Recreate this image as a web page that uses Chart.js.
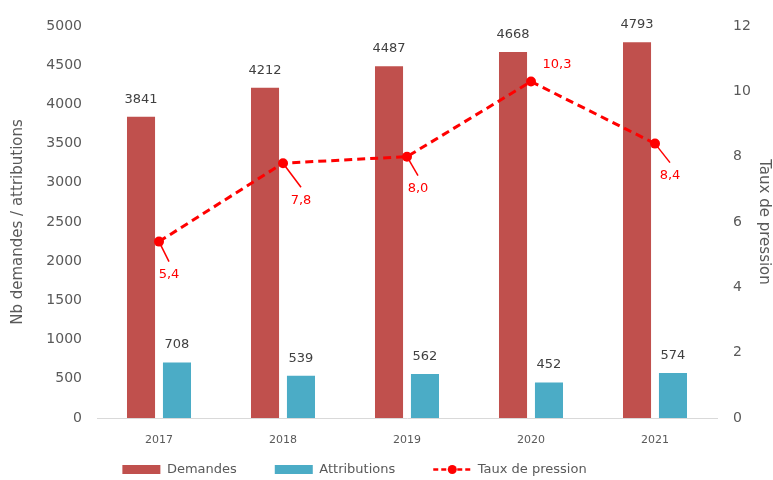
<!DOCTYPE html>
<html>
<head>
<meta charset="utf-8">
<script src="https://cdn.jsdelivr.net/npm/chart.js@4.4.1/dist/chart.umd.min.js"></script>
<style>
  html, body { margin: 0; padding: 0; background: #fff; }
  #wrap { width: 773px; height: 480px; }
</style>
</head>
<body>
<div id="wrap"><canvas id="chart"></canvas></div>
<script>
'use strict';

/* ── Data ─────────────────────────────────────────────────── */
const years = ['2017', '2018', '2019', '2020', '2021'];
const demandes = [3841, 4212, 4487, 4668, 4793];
const attributions = [708, 539, 562, 452, 574];
const tauxPression = [5.4, 7.8, 8.0, 10.3, 8.4];

const FONT = '"DejaVu Sans", sans-serif';
const GREY = '#595959';
const RED_BAR = '#C0504D';
const BLUE_BAR = '#4BACC6';
const RED_LINE = '#FF0000';

// offsets for the pressure labels (dx, dy from point, leader or not)
const rateLabelPos = [
    { dx: 10, dy: 33, leader: true },
    { dx: 18, dy: 37, leader: true },
    { dx: 11, dy: 32, leader: true },
    { dx: 26, dy: -17, leader: false },
    { dx: 15, dy: 32, leader: true },
];

/* ── Value labels plugin ───────────────────────────────────── */
const valueLabels = {
    id: 'valueLabels',
    afterLayout(chart) {
        // legend sits a bit left of centre and closer to the axis in the original
        const lg = chart.legend;
        if (lg) {
            lg.left -= 32; lg.right -= 32;
            lg.top -= 24;
        }
    },
    afterDatasetsDraw(chart) {
        const ctx = chart.ctx;
        ctx.save();
        ctx.textAlign = 'center';
        ctx.textBaseline = 'bottom';
        ctx.font = '13px ' + FONT;
        ctx.fillStyle = '#404040';
        [0, 1].forEach(di => {
            chart.getDatasetMeta(di).data.forEach((bar, i) => {
                const v = chart.data.datasets[di].data[i];
                ctx.fillText(String(v), bar.x, bar.y - 11);
            });
        });

        // pressure labels
        const meta = chart.getDatasetMeta(2);
        ctx.fillStyle = RED_LINE;
        ctx.strokeStyle = RED_LINE;
        ctx.lineWidth = 1.5;
        ctx.textBaseline = 'middle';
        meta.data.forEach((pt, i) => {
            const p = rateLabelPos[i];
            const lx = pt.x + p.dx, ly = pt.y + p.dy;
            if (p.leader) {
                ctx.beginPath();
                ctx.moveTo(pt.x, pt.y);
                ctx.lineTo(lx, ly - 13);
                ctx.stroke();
            }
            ctx.fillText(tauxPression[i].toFixed(1).replace('.', ','), lx, ly);
        });
        ctx.restore();
    },
    afterDraw(chart) {
        // legend marker for the line series
        const ctx = chart.ctx;
        const lg = chart.legend;
        if (!lg || !lg.legendHitBoxes || !lg.legendHitBoxes[2]) return;
        const hb = lg.legendHitBoxes[2];
        const cy = hb.top + hb.height / 2;
        const x0 = hb.left, x1 = hb.left + 38;
        ctx.save();
        ctx.strokeStyle = RED_LINE;
        ctx.fillStyle = RED_LINE;
        ctx.setLineDash([5, 3]);
        ctx.lineWidth = 2.5;
        ctx.beginPath();
        ctx.moveTo(x0, cy);
        ctx.lineTo(x1, cy);
        ctx.stroke();
        ctx.setLineDash([]);
        ctx.beginPath();
        ctx.arc((x0 + x1) / 2, cy, 4.5, 0, Math.PI * 2);
        ctx.fill();
        ctx.restore();
    }
};

/* ── Chart ────────────────────────────────────────────────── */
const data = {
    labels: years,
    datasets: [
        { type: 'bar', label: 'Demandes', data: demandes, backgroundColor: RED_BAR, yAxisID: 'y', order: 2,
          categoryPercentage: 0.58, barPercentage: 0.78 },
        { type: 'bar', label: 'Attributions', data: attributions, backgroundColor: BLUE_BAR, yAxisID: 'y', order: 2,
          categoryPercentage: 0.58, barPercentage: 0.78 },
        { type: 'line', label: 'Taux de pression', data: tauxPression, yAxisID: 'y1', order: 1,
          borderColor: RED_LINE, backgroundColor: RED_LINE, borderWidth: 3, borderDash: [8, 5],
          pointRadius: 5, pointBackgroundColor: RED_LINE, pointBorderWidth: 0, tension: 0 },
    ]
};

const config = {
    data,
    options: {
        responsive: true, maintainAspectRatio: false, animation: false,
        layout: { padding: { top: 26, left: 0, right: 0, bottom: 0 } },
        scales: {
            x: {
                grid: { display: false, drawTicks: false },
                border: { color: '#d9d9d9', width: 1 },
                ticks: { color: GREY, font: { family: FONT, size: 11 }, padding: 16 },
                afterFit: s => { s.height = 31; }
            },
            y: {
                position: 'left', min: 0, max: 5000,
                grid: { display: false, drawTicks: false },
                border: { display: false },
                ticks: { stepSize: 500, color: GREY, font: { family: FONT, size: 14 }, padding: 15,
                         callback: v => String(v) },
                title: { display: true, text: 'Nb demandes / attributions', color: GREY,
                         font: { family: FONT, size: 15 }, padding: { top: 9, bottom: 0 } },
                afterFit: s => { s.width = 97; }
            },
            y1: {
                position: 'right', min: 0, max: 12,
                grid: { display: false, drawTicks: false },
                border: { display: false },
                ticks: { stepSize: 2, color: GREY, font: { family: FONT, size: 14 }, padding: 16 },
                title: { display: true, text: 'Taux de pression', color: GREY,
                         font: { family: FONT, size: 15 }, padding: { top: 0, bottom: 0 } },
                afterFit: s => { s.width = 56; }
            }
        },
        plugins: {
            legend: {
                position: 'bottom',
                maxHeight: 31,
                labels: {
                    color: GREY, font: { family: FONT, size: 13 },
                    boxWidth: 38, boxHeight: 9, padding: 38,
                    generateLabels: chart => chart.data.datasets.map((ds, i) => ({
                        text: ds.label,
                        fillStyle: i === 2 ? 'rgba(0,0,0,0)' : ds.backgroundColor,
                        strokeStyle: 'rgba(0,0,0,0)',
                        lineWidth: 0,
                        datasetIndex: i,
                        fontColor: GREY
                    }))
                }
            },
            tooltip: { enabled: false }
        }
    },
    plugins: [valueLabels]
};

new Chart(document.getElementById('chart'), config);
</script>
</body>
</html>
